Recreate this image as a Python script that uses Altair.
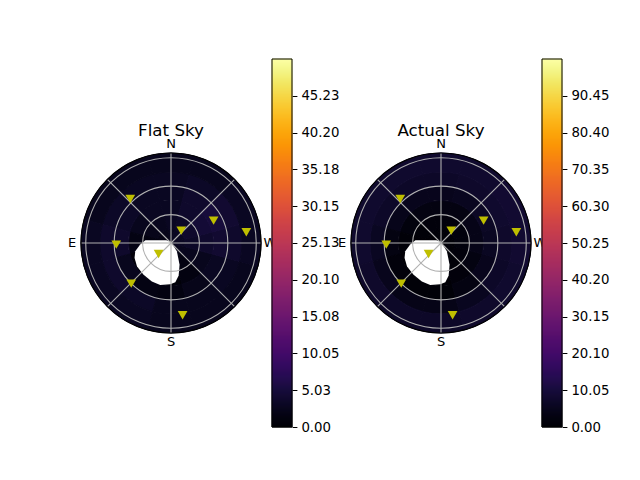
import math
import altair as alt
import pandas as pd

# ---------------- data ----------------
ZMAX = 95.0                                   # sky disc extent (deg)
ring_edges = [0, 15, 30, 45, 60, 75, 95]      # zenith ring edges
sector_az = [0, 30, 60, 90, 120, 150, 180, 210, 240, 270, 300, 330]

flat_vals = [
    [2.6, 2.2, 1.8, 1.3, 0.8, 0.4, 0.8, 1.8, 2.6, 3.0, 3.0, 3.0],
    [3.0, 2.6, 2.2, 1.3, 0.4, 0.2, 0.4, 1.3, 2.6, 3.4, 3.8, 3.4],
    [3.0, 3.0, 2.6, 1.7, 0.7, 0.4, 0.4, 1.3, 2.6, 3.8, 4.6, 3.8],
    [3.0, 3.0, 3.4, 3.8, 2.6, 1.7, 1.3, 2.2, 3.0, 4.2, 5.0, 3.8],
    [3.0, 3.0, 3.4, 3.8, 3.8, 3.4, 2.6, 2.6, 3.0, 3.8, 4.2, 3.4],
    [2.6, 2.6, 2.6, 3.0, 3.0, 3.0, 2.6, 2.6, 2.6, 3.0, 3.0, 2.6],
]
actual_vals = [
    [1.0, 1.0, 0.5, 0.5, 0.3, 0.2, 0.3, 0.5, 1.0, 1.0, 1.0, 1.0],
    [1.5, 1.5, 1.0, 0.5, 0.3, 0.2, 0.3, 0.8, 1.5, 2.0, 2.0, 1.5],
    [3.0, 3.0, 2.0, 1.0, 0.5, 0.3, 0.5, 1.5, 3.0, 4.0, 4.0, 3.0],
    [5.0, 5.0, 4.5, 3.0, 1.5, 1.0, 1.0, 3.0, 5.0, 6.0, 6.5, 5.5],
    [7.0, 7.0, 7.0, 6.0, 5.0, 4.0, 4.0, 5.5, 7.0, 7.5, 8.0, 7.5],
    [8.0, 8.0, 8.0, 8.0, 7.5, 7.0, 7.0, 7.5, 8.0, 8.5, 8.5, 8.0],
]
flat_cmax = 50.25
actual_cmax = 100.5
flat_tick_labels = ["0.00", "5.03", "10.05", "15.08", "20.10",
                    "25.13", "30.15", "35.18", "40.20", "45.23"]
actual_tick_labels = ["0.00", "10.05", "20.10", "30.15", "40.20",
                      "50.25", "60.30", "70.35", "80.40", "90.45"]

grid_zen = [30, 60, 90]
spoke_az = [0, 45, 90, 135, 180, 225, 270, 315]
dir_labels = ["N", "E", "S", "W"]
dir_az = [0, 90, 180, 270]

marker_az = [42.8, 320.3, 297.7, 278.1, 91.7, 131.6, 135.6, 189.1]
marker_zen = [63.3, 17.0, 50.8, 80.3, 57.8, 17.5, 60.0, 77.3]

sun_az = [144.6]
sun_zen = [25.4]

titles = ["Flat Sky", "Actual Sky"]

# ---------------- geometry / style ----------------
W, H = 242, 368          # panel view size (px)
R_PX = 90.0              # pixel radius of the sky disc
XD = ZMAX * (W / 2) / R_PX
YD = ZMAX * (H / 2) / R_PX
LABEL_R = 104.5
GRID = "#b0b0b0"
FONT = "DejaVu Sans"
# outline of the blank (masked) region round the sun, in symbol units
SUN_SHAPE = ("M -0.52 -0.99 L 0.41 -0.99 L 0.62 -0.93 L 0.88 -0.51 L 1.0 0.09 "
             "L 0.96 0.57 L 0.81 0.87 L 0.59 0.96 L 0.14 0.99 L -0.23 0.84 "
             "L -0.6 0.54 L -0.89 0.17 L -1 -0.2 L -0.97 -0.51 L -0.75 -0.8 Z")


def xy_calc(chart, zen_expr, az_field="az"):
    return chart.transform_calculate(
        px=f"-({zen_expr})*sin(datum.{az_field}*PI/180)",
        py=f"({zen_expr})*cos(datum.{az_field}*PI/180)",
    )


def panel(vals, cmax, tick_labels, title):
    xs = alt.Scale(domain=[-XD, XD], nice=False, zero=False)
    ys = alt.Scale(domain=[-YD, YD], nice=False, zero=False)
    rs = alt.Scale(type="linear", domain=[0, ZMAX], range=[0, R_PX], nice=False, zero=True)
    ts = alt.Scale(domain=[0, 360], nice=False)
    cs = alt.Scale(scheme="inferno", domain=[0, cmax], nice=False)

    rows = []
    for i in range(len(ring_edges) - 1):
        for j, az in enumerate(sector_az):
            rows.append(dict(r1=ring_edges[i], r2=ring_edges[i + 1], az=az, v=vals[i][j]))
    heat = alt.Chart(pd.DataFrame(rows)).transform_calculate(
        t1="360 - datum.az - 15", t2="360 - datum.az + 15"
    ).mark_arc(strokeWidth=1.0).encode(
        theta=alt.Theta("t1:Q", scale=ts, stack=False),
        theta2="t2:Q",
        radius=alt.Radius("r2:Q", scale=rs, stack=False),
        radius2="r1:Q",
        color=alt.Color("v:Q", scale=cs, legend=None),
        stroke=alt.Stroke("v:Q", scale=cs, legend=None),
    )

    sun = xy_calc(alt.Chart(pd.DataFrame({"az": sun_az, "zen": sun_zen})), "datum.zen").mark_point(
        shape=SUN_SHAPE, filled=True, color="white", opacity=1, size=2025
    ).encode(x=alt.X("px:Q", scale=xs, axis=None), y=alt.Y("py:Q", scale=ys, axis=None))

    circles = alt.Chart(pd.DataFrame({"zen": grid_zen})).mark_arc(
        fillOpacity=0, stroke=GRID, strokeWidth=1.1
    ).encode(theta=alt.value(0), theta2=alt.value(2 * math.pi),
             radius=alt.Radius("zen:Q", scale=rs, stack=False))

    spokes = xy_calc(alt.Chart(pd.DataFrame({"az": spoke_az})), str(ZMAX)).transform_calculate(
        ox="0", oy="0"
    ).mark_rule(color=GRID, strokeWidth=1.1).encode(
        x=alt.X("ox:Q", scale=xs, axis=None), y=alt.Y("oy:Q", scale=ys, axis=None),
        x2="px:Q", y2="py:Q")

    border = alt.Chart(pd.DataFrame({"zen": [ZMAX]})).mark_arc(
        fillOpacity=0, stroke="black", strokeWidth=1.2
    ).encode(theta=alt.value(0), theta2=alt.value(2 * math.pi),
             radius=alt.Radius("zen:Q", scale=rs, stack=False))

    markers = xy_calc(alt.Chart(pd.DataFrame({"az": marker_az, "zen": marker_zen})), "datum.zen").mark_point(
        shape="triangle-down", filled=True, color="#bfbf00", opacity=1, size=95
    ).encode(x=alt.X("px:Q", scale=xs, axis=None), y=alt.Y("py:Q", scale=ys, axis=None))

    labels = xy_calc(alt.Chart(pd.DataFrame({"az": dir_az, "lab": dir_labels})), str(LABEL_R)).mark_text(
        font=FONT, fontSize=13, color="black", align="center", baseline="middle"
    ).encode(x=alt.X("px:Q", scale=xs, axis=None), y=alt.Y("py:Q", scale=ys, axis=None), text="lab:N")

    ttl = alt.Chart(pd.DataFrame({"t": [title]})).mark_text(
        font=FONT, fontSize=16.7, color="black", align="center", baseline="alphabetic"
    ).encode(x=alt.value(W / 2), y=alt.value(77), text="t:N")

    polar = alt.layer(heat, sun, circles, spokes, border, markers, labels, ttl)

    nb = 184
    cb = pd.DataFrame({
        "lo": [cmax * i / nb for i in range(nb)],
        "hi": [cmax * (i + 1) / nb for i in range(nb)],
        "v": [cmax * (i + 0.5) / nb for i in range(nb)],
    })
    ticks = [float(s) for s in tick_labels]
    cbar = alt.Chart(cb).mark_rect(strokeWidth=1.0).encode(
        x=alt.value(W - 20), x2=alt.value(W),
        y=alt.Y("lo:Q", scale=alt.Scale(domain=[0, cmax], nice=False, zero=True),
                axis=alt.Axis(orient="right", values=ticks, format=".2f", domain=False,
                              grid=False, tickColor="black", tickSize=4.9, tickWidth=1,
                              labelFont=FONT, labelFontSize=13.3, labelColor="black",
                              labelPadding=4, title=None)),
        y2="hi:Q",
        color=alt.Color("v:Q", scale=cs, legend=None),
        stroke=alt.Stroke("v:Q", scale=cs, legend=None),
    )
    outline = alt.Chart(pd.DataFrame({"o": [1]})).mark_rect(
        fillOpacity=0, stroke="black", strokeWidth=1
    ).encode(x=alt.value(W - 20), x2=alt.value(W), y=alt.value(0), y2=alt.value(H))

    return alt.layer(polar, alt.layer(cbar, outline)).resolve_scale(y="independent").properties(
        width=W, height=H)


p1 = panel(flat_vals, flat_cmax, flat_tick_labels, titles[0])
p2 = panel(actual_vals, actual_cmax, actual_tick_labels, titles[1])

chart = alt.hconcat(p1, p2, spacing=28, bounds="flush").resolve_scale(
    color="independent", stroke="independent", x="independent", y="independent",
    theta="independent", radius="independent"
).properties(
    padding={"left": 42, "top": 50, "right": 5, "bottom": 5}
).configure(font=FONT).configure_view(stroke=None)

chart.save("out.html", embed_options={"renderer": "svg", "actions": False})
